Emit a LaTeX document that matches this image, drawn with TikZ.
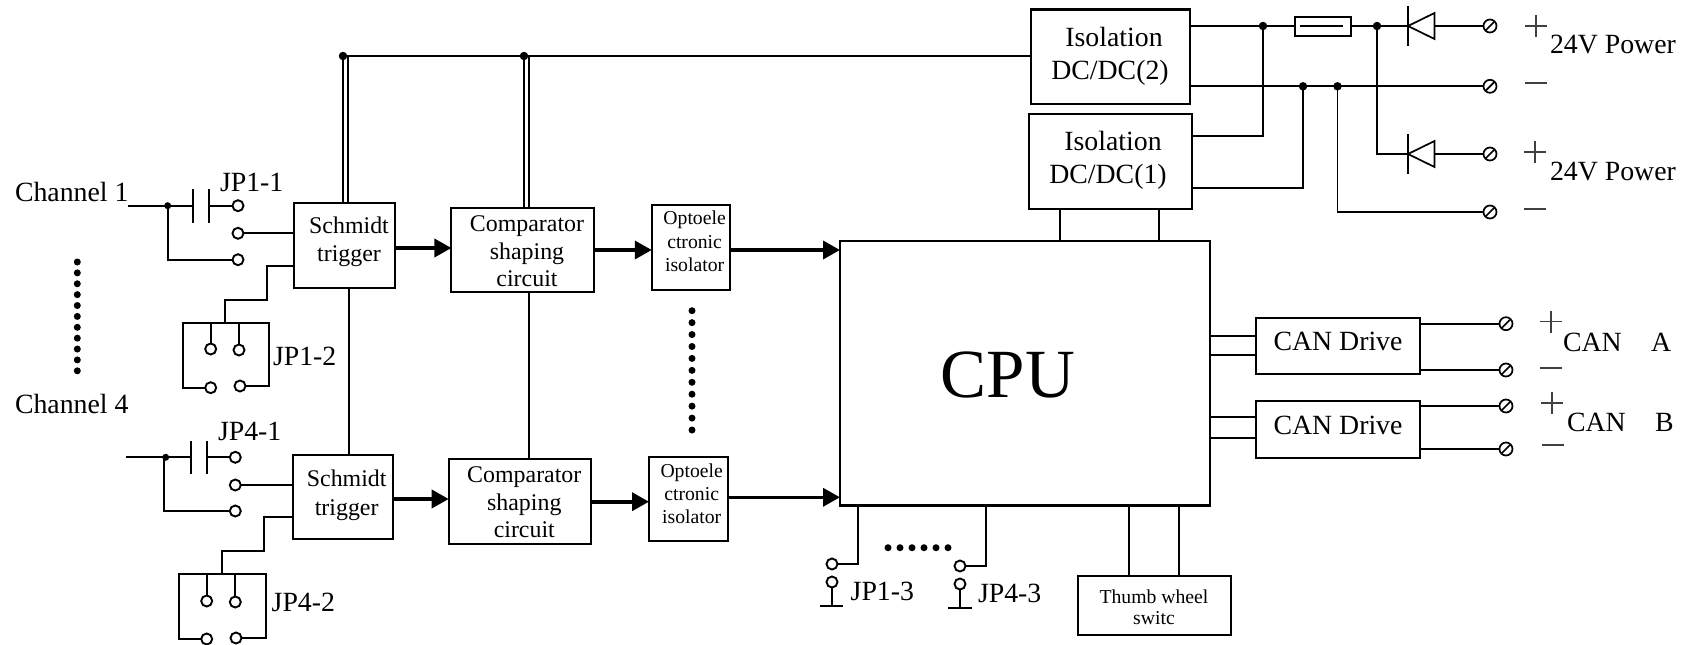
\documentclass[tikz,border=0pt]{standalone}
\usepackage{fontspec}
\setmainfont{Liberation Serif}
\usetikzlibrary{arrows.meta,shapes.symbols}
\newcommand{\fs}[1]{\fontsize{#1}{#1}\selectfont}
\tikzset{
  wire/.style={line width=1.9pt,line cap=butt,line join=miter},
  flow/.style={line width=3.6pt,-{Triangle[length=17pt,width=18pt]}},
  boxst/.style={draw,line width=2.1pt,inner sep=0pt,outer sep=0pt,fill=white},
  jack/.style={circle,draw,line width=1.9pt,minimum size=11pt,inner sep=0pt,outer sep=0pt,fill=white},
  term/.style={forbidden sign,draw,line width=1.7pt,minimum size=13pt,inner sep=0pt,outer sep=0pt,fill=white},
  junction/.style={circle,fill=black,minimum size=8.5pt,inner sep=0pt,outer sep=0pt},
  bead/.style={circle,fill=black,minimum size=7pt,inner sep=0pt},
  txt/.style={inner sep=0pt,outer sep=0pt,font=\fs{27.8}},
  midt/.style={inner sep=0pt,outer sep=0pt,font=\fs{23.9}},
  smallt/.style={inner sep=0pt,outer sep=0pt,font=\fs{19.7}},
  signst/.style={line width=1.2pt,draw=black!75}
}
% name, left, top, right, bottom
\newcommand{\bx}[5]{\node[boxst,minimum width={#4-#2},minimum height={#5-#3}] (#1) at ({(#2+#4)/2},{(#3+#5)/2}) {};}
% name, x, baseline, style, text
\newcommand{\tc}[5]{\node[#4,anchor=base] (#1) at (#2,#3) {#5};}
\newcommand{\tl}[5]{\node[#4,anchor=base west] (#1) at (#2,#3) {#5};}
\begin{document}
\begin{tikzpicture}[x=1pt,y=-1pt]
\useasboundingbox[fill=white] (0,0) rectangle (1690,645);

% blocks
\bx{schA}{294}{203}{395}{288}
\bx{schD}{293}{455}{393}{539}
\bx{cmpA}{451.4}{208}{593.6}{292}
\bx{cmpD}{448.7}{459}{591.3}{543.7}
\bx{optA}{651.8}{205}{730.4}{289.7}
\bx{optD}{649}{456.7}{727.7}{541}
\bx{cpu}{840}{241}{1210}{505.5}
\bx{isoB}{1031}{9.5}{1190}{104}
\bx{isoA}{1029}{114}{1192}{209}
\bx{canA}{1256}{317.7}{1420}{374}
\bx{canB}{1256}{400.7}{1420}{458}
\bx{thumb}{1077.7}{575.7}{1230.7}{634.7}
\bx{fuse}{1295}{16.7}{1351}{35.7}

% block texts
\tc{tSchA1}{349}{233}{midt}{Schmidt}
\tc{tSchA2}{349}{261}{midt}{trigger}
\tc{tSchD1}{346.7}{486.3}{midt}{Schmidt}
\tc{tSchD2}{346.7}{515}{midt}{trigger}
\tc{tCmpA1}{527}{231}{midt}{Comparator}
\tc{tCmpA2}{527}{259}{midt}{shaping}
\tc{tCmpA3}{527}{286}{midt}{circuit}
\tc{tCmpD1}{524.3}{482.7}{midt}{Comparator}
\tc{tCmpD2}{524.3}{510}{midt}{shaping}
\tc{tCmpD3}{524.3}{537}{midt}{circuit}
\tc{tOptA1}{694.6}{224.5}{smallt}{Optoele}
\tc{tOptA2}{694.6}{248}{smallt}{ctronic}
\tc{tOptA3}{694.6}{271}{smallt}{isolator}
\tc{tOptD1}{691.7}{477.3}{smallt}{Optoele}
\tc{tOptD2}{691.7}{500.5}{smallt}{ctronic}
\tc{tOptD3}{691.7}{523.5}{smallt}{isolator}
\node[inner sep=0pt,anchor=base,font=\fs{69}] (tCpu) at (1008,397) {CPU};
\tc{tIsoB1}{1114}{46}{txt}{Isolation}
\tc{tIsoB2}{1110}{79}{txt}{DC/DC(2)}
\tc{tIsoA1}{1113}{150}{txt}{Isolation}
\tc{tIsoA2}{1108}{183}{txt}{DC/DC(1)}
\tc{tCanA}{1338}{350}{txt}{CAN Drive}
\tc{tCanB}{1338}{434}{txt}{CAN Drive}
\tc{tTh1}{1154}{603}{smallt}{Thumb wheel}
\tc{tTh2}{1154}{624}{smallt}{switc}

% outer labels
\tl{lCh1}{15}{201.7}{txt}{Channel 1}
\tl{lCh4}{15}{413}{txt}{Channel 4}
\tl{lJ11}{220}{191.7}{txt}{JP1-1}
\tl{lJ12}{273}{365.7}{txt}{JP1-2}
\tl{lJ41}{218}{440.7}{txt}{JP4-1}
\tl{lJ42}{271.7}{611}{txt}{JP4-2}
\tl{lJ13}{850.7}{600.7}{txt}{JP1-3}
\tl{lJ43}{978}{602}{txt}{JP4-3}
\tl{lP1}{1550}{53}{txt}{24V Power}
\tl{lP2}{1550}{180}{txt}{24V Power}
\tl{lCa1}{1563}{351.7}{txt}{CAN}
\tl{lCa2}{1651}{351.7}{txt}{A}
\tl{lCb1}{1567}{431.7}{txt}{CAN}
\tl{lCb2}{1655}{431.7}{txt}{B}

% bus
\node[junction] (jBusA) at (343,56) {};
\node[junction] (jBusB) at (524,56) {};
\draw[wire] (jBusA) -- (isoB.west |- jBusA);
\draw[wire] (jBusA.center) -- (schA.north -| jBusA);
\draw[wire] (348,56) -- (schA.north -| 348,0);
\draw[wire] (jBusB.center) -- (cmpA.north -| jBusB);
\draw[wire] (528.6,56) -- (cmpA.north -| 528.6,0);
\draw[wire] (schA.south -| 348.7,0) -- (schD.north -| 348.7,0);
\draw[wire] (cmpA.south -| 528.6,0) -- (cmpD.north -| 528.6,0);

% signal flow
\draw[flow] (schA.east |- 0,248) -- (cmpA.west |- 0,248);
\draw[flow] (cmpA.east |- 0,250) -- (optA.west |- 0,250);
\draw[flow] (optA.east |- 0,250) -- (cpu.west |- 0,250);
\draw[flow] (schD.east |- 0,499) -- (cmpD.west |- 0,499);
\draw[flow] (cmpD.east |- 0,501.7) -- (optD.west |- 0,501.7);
\draw[flow] (optD.east |- 0,497.3) -- (cpu.west |- 0,497.3);

% channel 1 input
\coordinate (inA) at (128,205.7);
\node[junction,minimum size=7pt] (jA) at (167.7,205.7) {};
\coordinate (capA1) at (193,205.7);
\coordinate (capA2) at (209,205.7);
\node[jack] (a1) at (238,205.7) {};
\node[jack] (a2) at (238,233.3) {};
\node[jack] (a3) at (238,259.7) {};
\draw[wire] (inA) -- (capA1);
\draw[wire] (capA2) -- (a1);
\draw[wire] (193,189) -- (193,222.7);
\draw[wire] (209,189) -- (209,222.7);
\draw[wire] (a2) -- (schA.west |- a2);
\draw[wire] (jA.center) -- (jA |- a3) -- (a3);
\draw[wire] (schA.west |- 0,265.7) -- (267,265.7) -- (267,299.7) -- (225,299.7) -- (225,322.7);
\node[jack] (b1) at (210.7,349) {};
\node[jack] (b2) at (239,350) {};
\node[jack] (b3) at (210.7,387.7) {};
\node[jack] (b4) at (240,386) {};
\draw[wire] (b3) -- (183,387.7) -- (183,322.7) -- (269,322.7) -- (269,386) -- (b4);
\draw[wire] (b1 |- 0,322.7) -- (b1);
\draw[wire] (b2 |- 0,322.7) -- (b2);

% channel 4 input
\coordinate (inD) at (126,457.3);
\node[junction,minimum size=7pt] (jD) at (165.7,457.3) {};
\coordinate (capD1) at (191,457.3);
\coordinate (capD2) at (206.7,457.3);
\node[jack] (c1) at (235.3,457.3) {};
\node[jack] (c2) at (235.3,485) {};
\node[jack] (c3) at (235.3,511) {};
\draw[wire] (inD) -- (capD1);
\draw[wire] (capD2) -- (c1);
\draw[wire] (191,441) -- (191,474);
\draw[wire] (206.7,441) -- (206.7,474);
\draw[wire] (c2) -- (schD.west |- c2);
\draw[wire] (164.3,457.3) -- (164.3,511) -- (c3);
\draw[wire] (schD.west |- 0,516.7) -- (264.3,516.7) -- (264.3,550.7) -- (222,550.7) -- (222,573.7);
\node[jack] (d1) at (206.7,601) {};
\node[jack] (d2) at (235.3,602) {};
\node[jack] (d3) at (206.7,639) {};
\node[jack] (d4) at (236,638) {};
\draw[wire] (d3) -- (179,639) -- (179,573.7) -- (265.7,573.7) -- (265.7,638) -- (d4);
\draw[wire] (d1 |- 0,573.7) -- (d1);
\draw[wire] (d2 |- 0,573.7) -- (d2);

% bead columns
\foreach \i in {0,...,10} {
  \node[bead] (dotL\i) at (77.3,{262+\i*10.88}) {};
  \node[bead] (dotM\i) at (692,{310.7+\i*11.93}) {};
}
\foreach \i in {0,...,5} \node[bead] (dotB\i) at ({888+\i*12},547.7) {};

% JP1-3 / JP4-3
\node[jack] (e1) at (832,564) {};
\node[jack] (e2) at (832,582) {};
\node[jack] (f1) at (960,566) {};
\node[jack] (f2) at (960,584) {};
\draw[wire] (cpu.south -| 858,0) -- (858,564) -- (e1);
\draw[wire] (cpu.south -| 986,0) -- (986,566) -- (f1);
\coordinate (gE) at (832,606);
\coordinate (gF) at (960,607.7);
\draw[wire] (e2) -- (gE);
\draw[wire] (f2) -- (gF);
\draw[wire] (820,606) -- (843,606);
\draw[wire] (948,607.7) -- (971.7,607.7);

% thumb wheel
\draw[wire] (cpu.south -| 1129,0) -- (thumb.north -| 1129,0);
\draw[wire] (cpu.south -| 1179,0) -- (thumb.north -| 1179,0);

% CPU - isolation
\draw[wire] (isoA.south -| 1060,0) -- (cpu.north -| 1060,0);
\draw[wire] (isoA.south -| 1159,0) -- (cpu.north -| 1159,0);

% CPU - CAN
\foreach \y in {335.7,355} \draw[wire] (cpu.east |- 0,\y) -- (canA.west |- 0,\y);
\foreach \y in {417,438} \draw[wire] (cpu.east |- 0,\y) -- (canB.west |- 0,\y);

% terminals
\node[term] (t1) at (1490,26) {};
\node[term] (t2) at (1490,86.3) {};
\node[term] (t3) at (1490,154) {};
\node[term] (t4) at (1490,212) {};
\node[term] (t5) at (1506,323.7) {};
\node[term] (t6) at (1506,370) {};
\node[term] (t7) at (1506,406) {};
\node[term] (t8) at (1506,449) {};
\draw[wire] (canA.east |- t5) -- (t5);
\draw[wire] (canA.east |- t6) -- (t6);
\draw[wire] (canB.east |- t7) -- (t7);
\draw[wire] (canB.east |- t8) -- (t8);

% power
\node[junction] (p1) at (1263,26) {};
\node[junction] (p2) at (1377,26) {};
\node[junction] (p3) at (1303,86.3) {};
\node[junction] (p4) at (1337.5,86.3) {};
\draw[wire] (isoB.east |- p1) -- (fuse.west |- p1);
\draw[wire] (fuse.east |- p2) -- (1408,26);
\draw[wire] (1300,26) -- (1343,26);
\draw[wire] (1434.5,26) -- (t1);
\draw[wire] (isoB.east |- t2) -- (t2);
\draw[wire] (p1.center) -- (1263,135.7) -- (isoA.east |- 0,135.7);
\draw[wire] (p3.center) -- (1303,187.7) -- (isoA.east |- 0,187.7);
\draw[wire] (p4.center) -- (p4 |- t4) -- (t4);
\draw[wire] (p2.center) -- (1377,154) -- (1408,154);
\draw[wire] (1434.5,154) -- (t3);

% diodes
\draw[wire,line width=1.7pt] (1408,6) -- (1408,45.7);
\draw[wire,line width=1.7pt] (1434.5,13) -- (1408,26) -- (1434.5,39) -- cycle;
\draw[wire,line width=1.7pt] (1408,134) -- (1408,174);
\draw[wire,line width=1.7pt] (1434.5,141) -- (1408,154) -- (1434.5,167) -- cycle;

% signs
\foreach \x/\y in {1536/26,1535/152,1551/321.7,1552/403} {
  \draw[signst] (\x-11,\y) -- (\x+11,\y);
  \draw[signst] (\x,\y-11) -- (\x,\y+11);
}
\foreach \x/\y in {1536/83,1535/209,1551/368,1553/445} {
  \draw[signst] (\x-11,\y) -- (\x+11,\y);
}
\end{tikzpicture}
\end{document}
